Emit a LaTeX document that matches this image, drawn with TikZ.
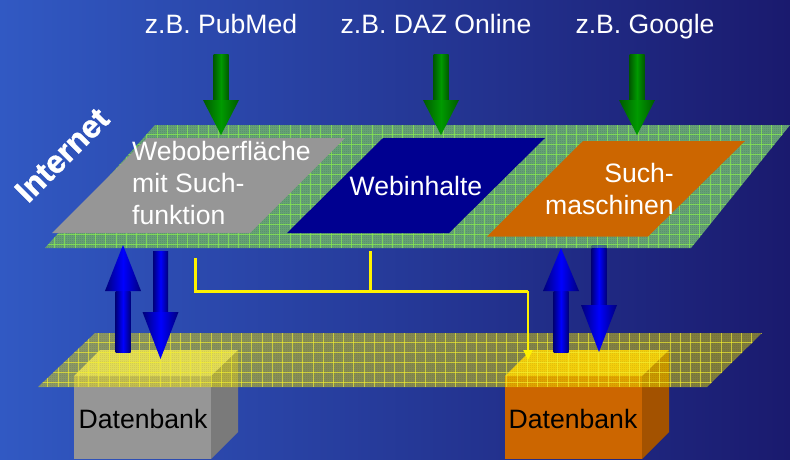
\documentclass[tikz,border=0pt]{standalone}
\usepackage{fontspec}
\setmainfont{Liberation Sans}
\newfontfamily\inetfont[RawFeature={embolden=1.2}]{Liberation Sans Bold}
\usetikzlibrary{arrows.meta,patterns}
\definecolor{bgL}{HTML}{3159C3}
\definecolor{bgM}{HTML}{2C48A6}
\definecolor{bgR}{HTML}{1A1A6E}
\definecolor{planeG}{HTML}{6AA478}
\definecolor{dithG}{HTML}{4F8C68}
\definecolor{gridG}{HTML}{88EC50}
\definecolor{gridY}{HTML}{F4F030}
\definecolor{greyP}{HTML}{969696}
\definecolor{navyP}{HTML}{000090}
\definecolor{orangeP}{HTML}{CC6600}
\definecolor{greyT}{HTML}{D0D0A0}
\definecolor{orangeT}{HTML}{F0B818}
\definecolor{greyS}{HTML}{7A7A7A}
\definecolor{orangeS}{HTML}{A35200}
\definecolor{grnD}{HTML}{005A00}
\definecolor{grnB}{HTML}{009A00}
\definecolor{bluD}{HTML}{00007A}
\definecolor{bluB}{HTML}{0000FF}
\pgfdeclarepatternformonly{dither}{\pgfqpoint{0pt}{0pt}}{\pgfqpoint{2pt}{2pt}}{\pgfqpoint{2pt}{2pt}}{%
  \pgfpathrectangle{\pgfqpoint{0pt}{0pt}}{\pgfqpoint{1pt}{1pt}}%
  \pgfpathrectangle{\pgfqpoint{1pt}{1pt}}{\pgfqpoint{1pt}{1pt}}%
  \pgfusepath{fill}}
\tikzset{
  x=1pt,y=-1pt,
  lab/.style={text=white,font=\fontsize{26.6}{32}\selectfont,align=left,inner sep=0pt},
  toplab/.style={text=white,font=\fontsize{26.6}{32}\selectfont,inner sep=0pt,anchor=base},
  dblab/.style={text=black,font=\fontsize{26.6}{32}\selectfont,inner sep=0pt},
  grnshade/.style={left color=grnD,right color=grnD,middle color=grnB},
  blushade/.style={left color=bluD,right color=bluD,middle color=bluB},
  ylink/.style={draw=yellow,line width=3pt},
}
% vertical arrow: centre x, start y, head base y, tip y, shading style
\newcommand{\varrow}[5]{%
  \path[#5] (#1-7.5,#2) rectangle (#1+7.5,#3);
  \path[#5] (#1-18,#3) -- (#1+18,#3) -- (#1,#4) -- cycle;
}
\begin{document}
\begin{tikzpicture}
\useasboundingbox (0,0) rectangle (790,459);
\path[left color=bgL,middle color=bgM,right color=bgR] (0,0) rectangle (790,459);
% boxes
\fill[greyP] (74,376) rectangle (211,459);
\fill[greyS] (211,376) -- (238,350) -- (238,432) -- (211,459) -- cycle;
\fill[greyT] (74,376) -- (100,350) -- (238,350) -- (211,376) -- cycle;
\fill[orangeP] (505,376) rectangle (642,459);
\fill[orangeS] (642,376) -- (669,350) -- (669,432) -- (642,459) -- cycle;
\fill[orangeT] (505,376) -- (531,350) -- (669,350) -- (642,376) -- cycle;
% yellow plane
\fill[yellow,opacity=.45] (38,387) -- (95,333) -- (762,333) -- (707,387) -- cycle;
\begin{scope}
\clip (38,387) -- (95,333) -- (762,333) -- (707,387) -- cycle;
\fill[pattern=dither,pattern color=black,opacity=.12] (38,333) rectangle (762,387);
\foreach \i in {0,...,72} \draw[gridY,opacity=.65,line width=.8pt] (47.8+10.2*\i,333) -- (47.8+10.2*\i,387);
\foreach \j in {0,...,4} \draw[gridY,opacity=.65,line width=.8pt] (38,342+10*\j) -- (762,342+10*\j);
\end{scope}
% green plane
\fill[planeG] (45,248) -- (155,125) -- (790,125) -- (691,248) -- cycle;
\begin{scope}
\clip (45,248) -- (155,125) -- (790,125) -- (691,248) -- cycle;
\fill[pattern=dither,pattern color=dithG] (45,125) rectangle (790,248);
\foreach \i in {0,...,72} \draw[gridG,opacity=.75,line width=.7pt] (54.5+10.24*\i,125) -- (54.5+10.24*\i,248);
\foreach \j in {0,...,11} \draw[gridG,opacity=.75,line width=.7pt] (45,134+10*\j) -- (790,134+10*\j);
\end{scope}
% inner parallelograms
\fill[greyP] (52,233) -- (147,138) -- (345,138) -- (250,233) -- cycle;
\fill[navyP] (287,233) -- (383,138) -- (545,138) -- (449,233) -- cycle;
\fill[orangeP] (487,236.5) -- (583,141) -- (745,141) -- (648,236.5) -- cycle;
% labels
\node[toplab] (t1) at (221,33) {z.B. PubMed};
\node[toplab] (t2) at (436,33) {z.B. DAZ Online};
\node[toplab] (t3) at (645,33) {z.B. Google};
\node[lab,anchor=north west] (web) at (132,141) {Weboberfläche\\mit Such-\\funktion};
\node[lab] (inh) at (416,186) {Webinhalte};
\node[lab,align=right,anchor=east] (such) at (674,189) {Such-\\maschinen};
\node[text=white,font=\inetfont\fontsize{32}{36}\selectfont,rotate=45,inner sep=0pt] (inet) at (62,155) {Internet};
\node[dblab] (db1) at (143,419) {Datenbank};
\node[dblab] (db2) at (573,419) {Datenbank};
% green arrows
\varrow{221}{54}{100}{135}{grnshade}
\varrow{441}{54}{100}{135}{grnshade}
\varrow{637}{54}{100}{135}{grnshade}
% blue arrows
\varrow{123}{352}{291}{245}{blushade}
\varrow{160.5}{251}{312}{359}{blushade}
\varrow{561}{352}{291}{248}{blushade}
\varrow{599}{248}{305}{352}{blushade}
\path[blushade,opacity=.35] (591.5,245) rectangle (606.5,248);
% yellow connectors
\coordinate (ya) at (195,258);
\coordinate (yb) at (195,291);
\coordinate (yc) at (370,251);
\coordinate (yd) at (370,291);
\coordinate (ye) at (528,291);
\coordinate (yf) at (528,360);
\draw[ylink,line cap=butt] (ya) -- (yb) -- (ye);
\draw[ylink] (yc) -- (yd);
\draw[draw=yellow,line width=2pt,-{Triangle[length=10pt,width=9pt]}] (ye) -- (yf);
\end{tikzpicture}
\end{document}
